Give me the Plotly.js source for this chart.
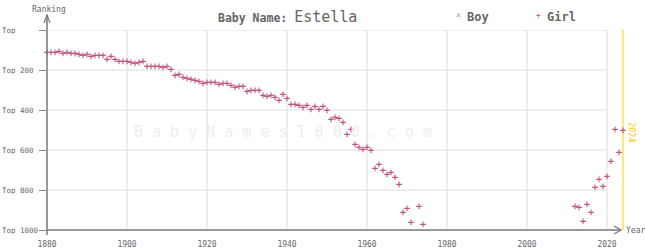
<!DOCTYPE html>
<html>
<head>
<meta charset="utf-8">
<script src="https://cdn.plot.ly/plotly-3.0.1.min.js"></script>
<style>html,body{margin:0;padding:0;background:#fff;}#chart{width:645px;height:250px;}</style>
</head>
<body>
<div id="chart"></div>
<script>
// ---- data ----
const girlYears = [
  1880,1881,1882,1883,1884,1885,1886,1887,1888,1889,
  1890,1891,1892,1893,1894,1895,1896,1897,1898,1899,
  1900,1901,1902,1903,1904,1905,1906,1907,1908,1909,
  1910,1911,1912,1913,1914,1915,1916,1917,1918,1919,
  1920,1921,1922,1923,1924,1925,1926,1927,1928,1929,
  1930,1931,1932,1933,1934,1935,1936,1937,1938,1939,
  1940,1941,1942,1943,1944,1945,1946,1947,1948,1949,
  1950,1951,1952,1953,1954,1955,1956,1957,1958,1959,
  1960,1961,1962,1963,1964,1965,1966,1967,1968,1969,
  1970,1971,1973,1974,
  2012,2013,2014,2015,2016,2017,2018,2019,2020,2021,2022,2023,2024
];
const girlRanks = [
  112,112,112,107,117,112,117,117,122,127,
  122,132,127,127,127,147,132,147,157,157,
  157,162,167,162,157,182,182,182,182,187,
  182,197,227,222,237,242,247,252,257,267,
  262,262,262,272,267,267,277,287,282,282,
  307,302,302,302,327,332,327,337,352,322,
  342,372,372,377,387,377,397,382,397,382,
  402,447,437,442,462,522,497,572,587,597,
  587,602,692,672,702,722,712,737,772,912,
  892,962,882,972,
  882,887,957,872,912,787,747,782,732,657,497,612,502
];
const xTickVals = [1880,1900,1920,1940,1960,1980,2000,2020];
const yTickVals = [0,200,400,600,800,1000];
const yTickText = ["Top","Top 200","Top 400","Top 600","Top 800","Top 1000"];
const babyName = "Estella";
const currentYear = 2024;

// ---- layout helpers ----
const W = 645, H = 250, L = 47, R = 14, T = 30, B = 20;
const PW = W - L - R, PH = H - T - B;
const px = p => (p - L) / PW;
const py = p => (H - B - p) / PH;
const MONO = "DejaVu Sans Mono, Liberation Mono, monospace";
const GRAY = "#777";
const GRID = "#dddddd";
const PINK = "#c2527c";
const YELLOW = "#f5d000";
const lastGridYear = xTickVals[xTickVals.length - 1];

const shapes = [];
yTickVals.slice(0, -1).forEach(v => shapes.push({
  type: "line", xref: "x", yref: "y", x0: xTickVals[0], x1: lastGridYear, y0: v, y1: v,
  line: {color: GRID, width: 1}, layer: "below"
}));
xTickVals.slice(1).forEach(v => shapes.push({
  type: "line", xref: "x", yref: "y", x0: v, x1: v, y0: 0, y1: 1000,
  line: {color: GRID, width: 1}, layer: "below"
}));
shapes.push({type: "line", xref: "x", yref: "paper", x0: currentYear, x1: currentYear, y0: 0, y1: 1,
  line: {color: YELLOW, width: 1}, layer: "below"});
shapes.push({type: "line", xref: "paper", yref: "paper", x0: 0, x1: 0, y0: py(235), y1: py(15),
  line: {color: GRAY, width: 1.5}});
shapes.push({type: "path", xref: "paper", yref: "paper",
  path: `M ${px(44)},${py(23)} L ${px(47)},${py(15)} L ${px(50)},${py(23)}`,
  line: {color: GRAY, width: 1.2}});
shapes.push({type: "line", xref: "paper", yref: "paper", x0: 0, x1: px(621), y0: 0, y1: 0,
  line: {color: GRAY, width: 1.5}});
shapes.push({type: "path", xref: "paper", yref: "paper",
  path: `M ${px(614)},${py(226)} L ${px(621)},${py(230)} L ${px(614)},${py(234)}`,
  line: {color: GRAY, width: 1.2}});

const annotations = [];
yTickVals.forEach((v, i) => annotations.push({
  xref: "paper", yref: "y", x: px(0), y: v, xanchor: "left", yanchor: "middle",
  text: yTickText[i], showarrow: false, font: {family: MONO, size: 7.5, color: "#666"}
}));
annotations.push({xref: "paper", yref: "paper", x: px(49), y: py(9), xanchor: "center", yanchor: "middle",
  text: "Ranking", showarrow: false, font: {family: MONO, size: 8, color: "#666"}});
annotations.push({xref: "paper", yref: "paper", x: px(624), y: py(230), xanchor: "left", yanchor: "middle",
  text: "Year", showarrow: false, font: {family: MONO, size: 8, color: "#666"}});
annotations.push({xref: "paper", yref: "paper", x: px(216), y: py(17), xanchor: "left", yanchor: "middle",
  text: "<b>Baby Name:</b> <span style='font-size:15px'>" + babyName + "</span>",
  showarrow: false, font: {family: MONO, size: 11.5, color: "#666"}});
annotations.push({xref: "paper", yref: "paper", x: px(458), y: py(16), xanchor: "center", yanchor: "middle",
  text: "×", showarrow: false, font: {family: MONO, size: 8, color: "#8fa0b8"}});
annotations.push({xref: "paper", yref: "paper", x: px(465), y: py(17), xanchor: "left", yanchor: "middle",
  text: "<b>Boy</b>", showarrow: false, font: {family: MONO, size: 12, color: "#666"}});
annotations.push({xref: "paper", yref: "paper", x: px(538), y: py(16), xanchor: "center", yanchor: "middle",
  text: "+", showarrow: false, font: {family: MONO, size: 8, color: PINK}});
annotations.push({xref: "paper", yref: "paper", x: px(545), y: py(17), xanchor: "left", yanchor: "middle",
  text: "<b>Girl</b>", showarrow: false, font: {family: MONO, size: 12, color: "#666"}});
annotations.push({xref: "x", yref: "paper", x: currentYear, y: py(132), xanchor: "left", yanchor: "middle",
  xshift: 2, textangle: 90, text: String(currentYear), showarrow: false,
  font: {family: MONO, size: 8.5, color: YELLOW}});
annotations.push({xref: "paper", yref: "paper", x: px(283), y: py(132), xanchor: "center", yanchor: "middle",
  text: "B a b y N a m e s 1 0 0 0 . c o m", showarrow: false,
  font: {family: MONO, size: 15, color: "#eeeeee"}});

const traces = [{
  type: "scatter", mode: "markers", name: "Girl",
  x: girlYears, y: girlRanks,
  marker: {symbol: "cross-thin", size: 4, color: PINK, line: {color: PINK, width: 1.1}},
  cliponaxis: false, hoverinfo: "skip"
}];

const layout = {
  width: W, height: H,
  margin: {l: L, r: R, t: T, b: B, pad: 0},
  paper_bgcolor: "#fff", plot_bgcolor: "#fff",
  showlegend: false,
  xaxis: {range: [1880, 2026], showgrid: false, zeroline: false, showline: false,
    tickvals: xTickVals, ticktext: xTickVals.map(String), ticks: "outside", ticklen: 6,
    tickcolor: "rgba(0,0,0,0)", tickfont: {family: MONO, size: 8, color: "#666"}},
  yaxis: {range: [1000, 0], showgrid: false, zeroline: false, showline: false,
    tickvals: yTickVals, ticks: "outside", ticklen: 7, tickcolor: "#888", tickwidth: 1,
    showticklabels: false},
  shapes: shapes,
  annotations: annotations
};

Plotly.newPlot("chart", traces, layout, {staticPlot: true, displayModeBar: false});
</script>
</body>
</html>
